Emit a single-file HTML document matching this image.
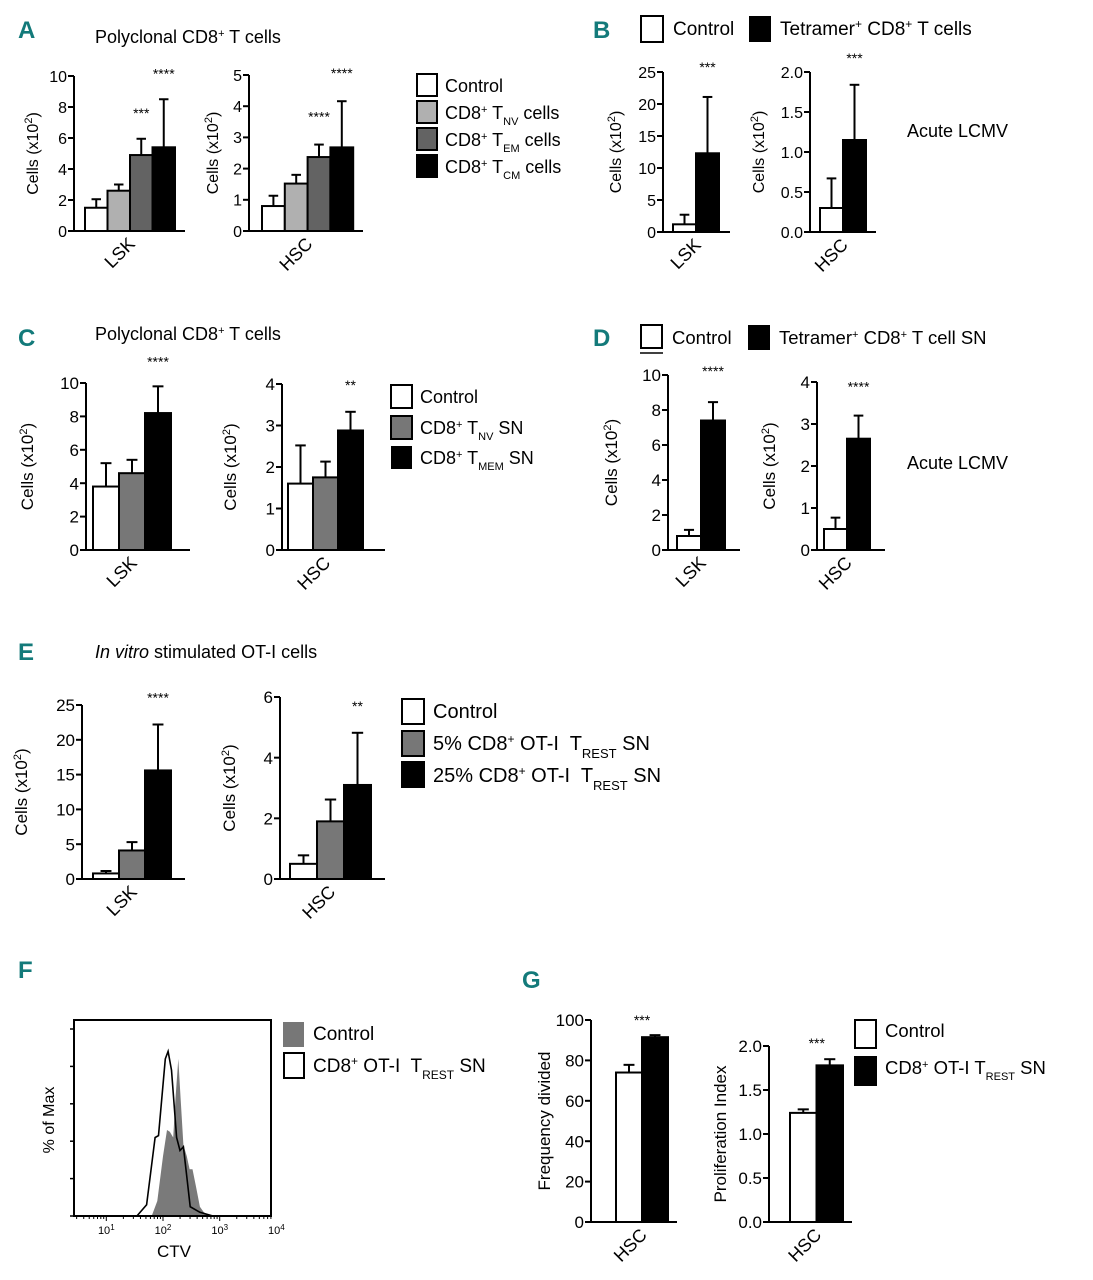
<!DOCTYPE html>
<html><head><meta charset="utf-8"><style>
body{margin:0;background:#fff;}
svg{display:block;font-family:"Liberation Sans",sans-serif;}
.pl{font-family:"Liberation Sans",sans-serif;font-weight:bold;fill:#137a7a;font-size:24px;}
</style></head><body>
<svg id="fig" width="1093" height="1280" viewBox="0 0 1093 1280">
<rect width="1093" height="1280" fill="#fff"/>
<g>
<text class="pl" x="18" y="38">A</text>
<text class="pl" x="593" y="38">B</text>
<text class="pl" x="18" y="346">C</text>
<text class="pl" x="593" y="346">D</text>
<text class="pl" x="18" y="660">E</text>
<text class="pl" x="18" y="978">F</text>
<text class="pl" x="522" y="988">G</text>
</g>
<g font-size="18">
<text x="95" y="43">Polyclonal CD8<tspan baseline-shift="super" font-size="11">+</tspan> T cells</text>
<text x="95" y="340">Polyclonal CD8<tspan baseline-shift="super" font-size="11">+</tspan> T cells</text>
<text x="95" y="658"><tspan font-style="italic">In vitro</tspan> stimulated OT-I cells</text>
<text x="907" y="137">Acute LCMV</text>
<text x="907" y="469">Acute LCMV</text>
</g>
<g id="legends" font-size="18">
<g>
<rect x="417" y="74" width="20" height="22" fill="#fff" stroke="#000" stroke-width="2"/>
<rect x="417" y="101" width="20" height="22" fill="#b0b0b0" stroke="#000" stroke-width="2"/>
<rect x="417" y="128" width="20" height="22" fill="#636363" stroke="#000" stroke-width="2"/>
<rect x="417" y="155" width="20" height="22" fill="#000" stroke="#000" stroke-width="2"/>
<text x="445" y="92">Control</text>
<text x="445" y="119">CD8<tspan baseline-shift="super" font-size="11">+</tspan> T<tspan baseline-shift="sub" font-size="11">NV</tspan> cells</text>
<text x="445" y="146">CD8<tspan baseline-shift="super" font-size="11">+</tspan> T<tspan baseline-shift="sub" font-size="11">EM</tspan> cells</text>
<text x="445" y="173">CD8<tspan baseline-shift="super" font-size="11">+</tspan> T<tspan baseline-shift="sub" font-size="11">CM</tspan> cells</text>
</g>
<g font-size="19">
<rect x="641" y="16" width="22" height="26" fill="#fff" stroke="#000" stroke-width="2"/>
<rect x="749" y="16" width="22" height="26" fill="#000"/>
<text x="673" y="35">Control</text>
<text x="780" y="35">Tetramer<tspan baseline-shift="super" font-size="12">+</tspan> CD8<tspan baseline-shift="super" font-size="12">+</tspan> T cells</text>
</g>
<g font-size="18">
<rect x="391" y="385" width="21" height="23" fill="#fff" stroke="#000" stroke-width="2"/>
<rect x="391" y="416" width="21" height="23" fill="#777" stroke="#000" stroke-width="2"/>
<rect x="391" y="446" width="21" height="23" fill="#000"/>
<text x="420" y="403">Control</text>
<text x="420" y="434">CD8<tspan baseline-shift="super" font-size="11">+</tspan> T<tspan baseline-shift="sub" font-size="11">NV</tspan> SN</text>
<text x="420" y="464">CD8<tspan baseline-shift="super" font-size="11">+</tspan> T<tspan baseline-shift="sub" font-size="11">MEM</tspan> SN</text>
</g>
<g font-size="18.5">
<rect x="641" y="325" width="21" height="23" fill="#fff" stroke="#000" stroke-width="2"/>
<line x1="640" y1="353" x2="663" y2="353" stroke="#000" stroke-width="1.5"/>
<rect x="748" y="325" width="22" height="25" fill="#000"/>
<text x="672" y="344">Control</text>
<text x="779" y="344">Tetramer<tspan baseline-shift="super" font-size="11">+</tspan> CD8<tspan baseline-shift="super" font-size="11">+</tspan> T cell SN</text>
</g>
<g font-size="20">
<rect x="402" y="699" width="22" height="25" fill="#fff" stroke="#000" stroke-width="2"/>
<rect x="402" y="731" width="22" height="25" fill="#777" stroke="#000" stroke-width="2"/>
<rect x="401" y="761" width="24" height="27" fill="#000"/>
<text x="433" y="718">Control</text>
<text x="433" y="750" xml:space="preserve">5% CD8<tspan baseline-shift="super" font-size="12">+</tspan> OT-I  T<tspan baseline-shift="sub" font-size="13">REST</tspan> SN</text>
<text x="433" y="782" xml:space="preserve">25% CD8<tspan baseline-shift="super" font-size="12">+</tspan> OT-I  T<tspan baseline-shift="sub" font-size="13">REST</tspan> SN</text>
</g>
<g font-size="19">
<rect x="283" y="1022" width="21" height="25" fill="#777"/>
<rect x="284" y="1053" width="20" height="25" fill="#fff" stroke="#000" stroke-width="2"/>
<text x="313" y="1040">Control</text>
<text x="313" y="1072" xml:space="preserve">CD8<tspan baseline-shift="super" font-size="12">+</tspan> OT-I  T<tspan baseline-shift="sub" font-size="12">REST</tspan> SN</text>
</g>
<g font-size="18.5">
<rect x="855" y="1020" width="21" height="28" fill="#fff" stroke="#000" stroke-width="2"/>
<rect x="854" y="1056" width="23" height="30" fill="#000"/>
<text x="885" y="1037">Control</text>
<text x="885" y="1074">CD8<tspan baseline-shift="super" font-size="11">+</tspan> OT-I T<tspan baseline-shift="sub" font-size="11">REST</tspan> SN</text>
</g>
</g>
<g id="charts"></g>
</svg>
<script>
// ---- data ----
const aLskVals=[1.5,2.6,4.9,5.4], aLskErr=[0.55,0.4,1.05,3.1];
const aHscVals=[0.8,1.52,2.37,2.68], aHscErr=[0.33,0.28,0.4,1.48];
const aTicks=[0,2,4,6,8,10], aHscTicks=[0,1,2,3,4,5];
const bLskVals=[1.2,12.3], bLskErr=[1.5,8.8];
const bHscVals=[0.3,1.15], bHscErr=[0.37,0.69];
const bLskTicks=[0,5,10,15,20,25], bHscTicks=[0,0.5,1.0,1.5,2.0];
const cLskVals=[3.8,4.6,8.2], cLskErr=[1.4,0.8,1.6];
const cHscVals=[1.6,1.75,2.88], cHscErr=[0.92,0.38,0.45];
const cLskTicks=[0,2,4,6,8,10], cHscTicks=[0,1,2,3,4];
const dLskVals=[0.8,7.4], dLskErr=[0.35,1.05];
const dHscVals=[0.5,2.65], dHscErr=[0.27,0.55];
const dLskTicks=[0,2,4,6,8,10], dHscTicks=[0,1,2,3,4];
const eLskVals=[0.8,4.1,15.6], eLskErr=[0.35,1.2,6.6];
const eHscVals=[0.5,1.9,3.1], eHscErr=[0.28,0.72,1.72];
const eLskTicks=[0,5,10,15,20,25], eHscTicks=[0,2,4,6];
const gFreqVals=[74,91.5], gFreqErr=[3.8,1.0];
const gPiVals=[1.24,1.78], gPiErr=[0.04,0.07];
const gFreqTicks=[0,20,40,60,80,100], gPiTicks=[0,0.5,1.0,1.5,2.0];
const fLogs=[1,2,3,4];
const fCtrlX=[1.80,1.90,2.00,2.07,2.12,2.18,2.22,2.27,2.31,2.36,2.42,2.47,2.52,2.58,2.65,2.72,2.82];
const fCtrlY=[0,8,32,46,45,42,63,84,63,38,32,25,25,16,5,2,0];
const fSnX=[1.54,1.71,1.86,1.92,2.04,2.09,2.15,2.24,2.30,2.36,2.42,2.48,2.65,2.88];
const fSnY=[0,6,42,43,84,88,78,42,35,37,21,5,2,0];

const NS="http://www.w3.org/2000/svg";
const root=document.getElementById('charts');
function mk(tag,attrs,parent){const e=document.createElementNS(NS,tag);for(const k in attrs)e.setAttribute(k,attrs[k]);(parent||root).appendChild(e);return e;}

function barChart(name,L,vals,errs,fills,ticks,fmt,cat,stars,starIdx,ylab){
  const g=mk('g',{});
  
  
  const ymax=ticks[ticks.length-1];
  const y=v=>L.bottom-v/ymax*(L.bottom-L.top);
  const fs=L.fs||16;
  mk('line',{x1:L.ax,y1:L.top,x2:L.ax,y2:L.bottom,stroke:'#000','stroke-width':2},g);
  mk('line',{x1:L.ax-6,y1:L.bottom,x2:L.x1,y2:L.bottom,stroke:'#000','stroke-width':2},g);
  ticks.forEach(t=>{
    mk('line',{x1:L.ax-6,y1:y(t),x2:L.ax,y2:y(t),stroke:'#000','stroke-width':2},g);
    const tx=mk('text',{x:L.ax-7,y:y(t)+fs*0.36,'text-anchor':'end','font-size':fs},g);
    tx.textContent=fmt(t);
  });
  const yl=mk('text',{x:0,y:0,'text-anchor':'middle','font-size':fs,transform:`translate(${L.lblX},${(L.top+L.bottom)/2}) rotate(-90)`},g);
  
  
  yl.innerHTML=ylab;
  vals.forEach((v,i)=>{
    const x=L.b0+i*L.bw, cx=x+L.bw/2, ye=y(v+errs[i]);
    const cw=L.bw*0.42;
    mk('line',{x1:cx,y1:y(v),x2:cx,y2:ye,stroke:'#000','stroke-width':2},g);
    mk('line',{x1:cx-cw/2,y1:ye,x2:cx+cw/2,y2:ye,stroke:'#000','stroke-width':2},g);
    const r=mk('rect',{x:x,y:y(v),width:L.bw,height:L.bottom-y(v),fill:fills[i],stroke:'#000','stroke-width':2},g);
    
    
  });
  stars.forEach((s,k)=>{
    const i=starIdx[k];
    const cx=L.b0+i*L.bw+L.bw/2+(L.sx||0);
    const st=mk('text',{x:cx,y:y(vals[i]+errs[i])-(L.sd||20),'text-anchor':'middle','font-size':14},g);
    
    
    st.textContent=s;
  });
  const mid=L.b0+vals.length*L.bw/2;
  const cl=mk('text',{x:0,y:0,'text-anchor':'end','font-size':L.cfs||18,transform:`translate(${mid+6},${L.bottom+14}) rotate(-45)`},g);
  
  
  cl.textContent=cat;
}
const f0=t=>String(t), f1=t=>t.toFixed(1);
const cellsLab='Cells (x10<tspan baseline-shift="super" font-size="11">2</tspan>)';
const A4=['#fff','#b0b0b0','#636363','#000'], C3=['#fff','#777','#000'], B2=['#fff','#000'];

barChart('chart-a-lsk',{ax:74,x1:185,top:76,bottom:231,b0:85,bw:22.5,lblX:38,sd:21},aLskVals,aLskErr,A4,aTicks,f0,'LSK',['***','****'],[2,3],cellsLab);
barChart('chart-a-hsc',{ax:249,x1:363,top:75,bottom:231,b0:262,bw:22.8,lblX:218,sd:23},aHscVals,aHscErr,A4,aHscTicks,f0,'HSC',['****','****'],[2,3],cellsLab);
barChart('chart-b-lsk',{ax:663,x1:730,top:72,bottom:232,b0:673,bw:23,lblX:621,sd:25},bLskVals,bLskErr,B2,bLskTicks,f0,'LSK',['***'],[1],cellsLab);
barChart('chart-b-hsc',{ax:810,x1:876,top:72,bottom:232,b0:820,bw:23,lblX:764,sd:22},bHscVals,bHscErr,B2,bHscTicks,f1,'HSC',['***'],[1],cellsLab);
barChart('chart-c-lsk',{ax:86,x1:190,top:383,bottom:550,b0:93,bw:26,lblX:33,sd:20,fs:17},cLskVals,cLskErr,C3,cLskTicks,f0,'LSK',['****'],[2],cellsLab);
barChart('chart-c-hsc',{ax:282,x1:385,top:384,bottom:550,b0:288,bw:25,lblX:236,sd:22,fs:17},cHscVals,cHscErr,C3,cHscTicks,f0,'HSC',['**'],[2],cellsLab);
barChart('chart-d-lsk',{ax:668,x1:740,top:375,bottom:550,b0:677,bw:24,lblX:617,sd:26,fs:17},dLskVals,dLskErr,B2,dLskTicks,f0,'LSK',['****'],[1],cellsLab);
barChart('chart-d-hsc',{ax:817,x1:885,top:382,bottom:550,b0:824,bw:23,lblX:775,sd:24,fs:17},dHscVals,dHscErr,B2,dHscTicks,f0,'HSC',['****'],[1],cellsLab);
barChart('chart-e-lsk',{ax:82,x1:185,top:705,bottom:879,b0:93,bw:26,lblX:27,sd:22,fs:17},eLskVals,eLskErr,C3,eLskTicks,f0,'LSK',['****'],[2],cellsLab);
barChart('chart-e-hsc',{ax:280,x1:385,top:697,bottom:879,b0:290,bw:27,lblX:235,sd:22,fs:17},eHscVals,eHscErr,C3,eHscTicks,f0,'HSC',['**'],[2],cellsLab);
barChart('chart-g-freq',{ax:591,x1:677,top:1020,bottom:1222,b0:616,bw:26,lblX:550,sd:10,fs:17,sx:-13},gFreqVals,gFreqErr,B2,gFreqTicks,f0,'HSC',['***'],[1],'Frequency divided');
barChart('chart-g-pi',{ax:769,x1:852,top:1046,bottom:1222,b0:790,bw:26.5,lblX:726,sd:11,fs:17,sx:-13},gPiVals,gPiErr,B2,gPiTicks,f1,'HSC',['***'],[1],'Proliferation Index');

// ---- histogram F ----
(function(){
  const g=mk('g',{});
  
  
  const X0=74,X1=271,Y0=1020,Y1=1216;
  const xs=l=>163+(l-2)*56.7;
  const ys=p=>Y1-p/100*(Y1-1029);
  function path(xa,ya){return xa.map((l,i)=>(i?'L':'M')+xs(l).toFixed(1)+','+ys(ya[i]).toFixed(1)).join(' ');}
  const c=mk('path',{d:path(fCtrlX,fCtrlY)+' Z',fill:'#7a7a7a'},g);
  
  
  const s=mk('path',{d:path(fSnX,fSnY),fill:'none',stroke:'#000','stroke-width':1.6},g);
  
  
  mk('rect',{x:X0,y:Y0,width:X1-X0,height:Y1-Y0,fill:'none',stroke:'#000','stroke-width':2},g);
  for(let p=0;p<=100;p+=20) mk('line',{x1:X0-4,y1:ys(p),x2:X0,y2:ys(p),stroke:'#000','stroke-width':1.5},g);
  for(let d=0.5;d<4.3;d+=1){for(let m=1;m<10;m++){const l=Math.floor(d)+Math.log10(m);const px=xs(l);if(px<X0||px>X1)continue;mk('line',{x1:px,y1:Y1,x2:px,y2:Y1+(m==1?5:3),stroke:'#000','stroke-width':1},g);}}
  fLogs.forEach(l=>{const t=mk('text',{x:xs(l),y:Y1+18,'text-anchor':'middle','font-size':11},g);t.innerHTML='10<tspan baseline-shift="super" font-size="8">'+l+'</tspan>';});
  const xt=mk('text',{x:174,y:1257,'text-anchor':'middle','font-size':17},g);
  
  
  xt.textContent='CTV';
  const yt=mk('text',{x:0,y:0,'text-anchor':'middle','font-size':16,transform:'translate(54,1120) rotate(-90)'},g);
  
  
  yt.textContent='% of Max';
})();
</script>
</body></html>
